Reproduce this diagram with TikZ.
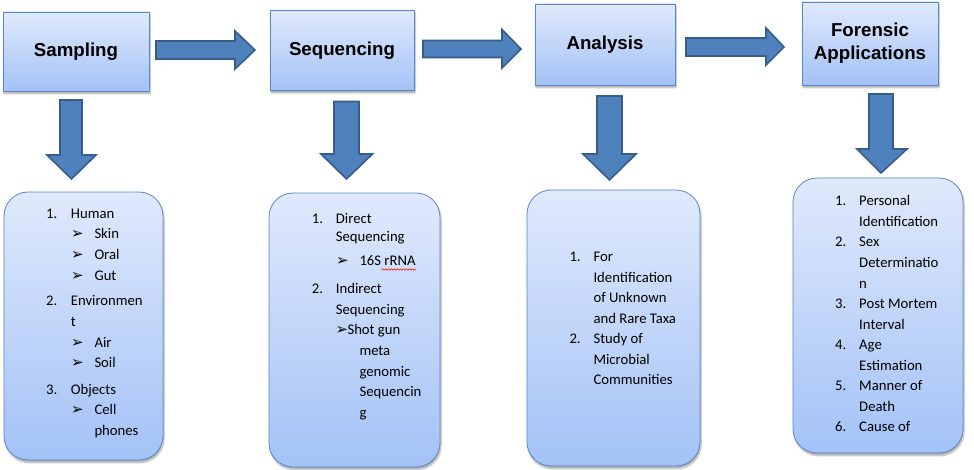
\documentclass[tikz,border=0pt]{standalone}
\usepackage{fontspec}
\usetikzlibrary{shadows,shadows.blur,decorations.pathmorphing}
\newfontfamily\listfont{Carlito}
\newfontfamily\headfont{Liberation Sans}
\newfontfamily\symfont{DejaVu Sans}
\definecolor{boxtop}{RGB}{224,233,251}
\definecolor{boxbot}{RGB}{163,194,247}
\definecolor{boxline}{RGB}{88,136,200}
\definecolor{arrfill}{RGB}{79,129,189}
\definecolor{arrline}{RGB}{56,93,138}
\tikzset{
  headbox/.style={rectangle, draw=boxline, line width=0.8pt, top color=boxtop, bottom color=boxbot,
    blur shadow={shadow xshift=1pt, shadow yshift=-2.5pt, shadow blur steps=6, shadow opacity=35},
    font=\headfont\fontsize{18.7}{23.3}\selectfont\bfseries, align=center, inner sep=0pt},
  listbox/.style={rectangle, rounded corners=24pt, draw=boxline, line width=0.8pt, top color=boxtop, bottom color=boxbot,
    blur shadow={shadow xshift=1pt, shadow yshift=-2.5pt, shadow blur steps=6, shadow opacity=35}, inner sep=0pt},
  blockarrow/.style={fill=arrfill, draw=arrline, line width=1.6pt, line join=miter},
  lt/.style={font=\listfont\fontsize{14.7}{20.5}\selectfont, anchor=base west, inner sep=0pt, text=black},
  bl/.style={font=\symfont\fontsize{15}{16}\selectfont, anchor=base west, inner sep=0pt, text=black},
}
\begin{document}
\begin{tikzpicture}[x=1pt,y=-1pt]
\useasboundingbox (0,0) rectangle (974,470);
% header boxes
\node[headbox, minimum width=146pt, minimum height=79pt] (samp) at (76,51.5) {Sampling};
\node[headbox, minimum width=144pt, minimum height=80pt] (seq) at (342,50.5) {Sequencing};
\node[headbox, minimum width=140pt, minimum height=81pt] (ana) at (605,44.5) {Analysis};
\node[headbox, minimum width=136pt, minimum height=83pt] (for) at (870,43.5) {Forensic\\Applications};
% list boxes
\node[listbox, minimum width=159pt, minimum height=268pt] (l1) at (83.5,326) {};
\node[listbox, minimum width=171pt, minimum height=274pt] (l2) at (354.5,330) {};
\node[listbox, minimum width=173pt, minimum height=276pt] (l3) at (613.5,328) {};
\node[listbox, minimum width=170pt, minimum height=275pt] (l4) at (878,315.5) {};
% right block arrows
\draw[blockarrow] (156,41) -- (235,41) -- (235,31) -- (255,50) -- (235,69) -- (235,59) -- (156,59) -- cycle;
\draw[blockarrow] (423,40.5) -- (502,40.5) -- (502,29.5) -- (521,49) -- (502,68) -- (502,57.5) -- (423,57.5) -- cycle;
\draw[blockarrow] (686,38) -- (766,38) -- (766,28) -- (784,47) -- (766,65) -- (766,56) -- (686,56) -- cycle;
% down block arrows
\draw[blockarrow] (60,100) -- (82,100) -- (82,155) -- (96,155) -- (71.5,179) -- (47,155) -- (60,155) -- cycle;
\draw[blockarrow] (334,101.5) -- (359,101.5) -- (359,154) -- (372.5,154) -- (346.5,179) -- (321,154) -- (334,154) -- cycle;
\draw[blockarrow] (597,96) -- (622,96) -- (622,154) -- (636,154) -- (609.5,180) -- (583,154) -- (597,154) -- cycle;
\draw[blockarrow] (869,94) -- (893,94) -- (893,149) -- (907,149) -- (881,173) -- (857,149) -- (869,149) -- cycle;
% list 1
\node[lt] (a1n) at (46,218.3) {1.};  \node[lt] (a1) at (70.7,218.3) {Human};
\node[bl] (a1b1) at (71,239) {➢}; \node[lt] (a1s1) at (94.3,239) {Skin};
\node[bl] (a1b2) at (71,259.5) {➢}; \node[lt] (a1s2) at (94.3,259.5) {Oral};
\node[bl] (a1b3) at (71,280) {➢}; \node[lt] (a1s3) at (94.3,280) {Gut};
\node[lt] (a2n) at (46,305.7) {2.};  \node[lt] (a2) at (70.7,305.7) {Environmen};
\node[lt] (a2c) at (70.7,326.5) {t};
\node[bl] (a2b1) at (71,347) {➢}; \node[lt] (a2s1) at (94.3,347) {Air};
\node[bl] (a2b2) at (71,367.7) {➢}; \node[lt] (a2s2) at (94.3,367.7) {Soil};
\node[lt] (a3n) at (46,394) {3.};  \node[lt] (a3) at (70.7,394) {Objects};
\node[bl] (a3b1) at (71,414.4) {➢}; \node[lt] (a3s1) at (94.3,414.4) {Cell};
\node[lt] (a3s1c) at (94.3,435) {phones};
% list 2
\node[lt] (b1n) at (311.7,224) {1.}; \node[lt] (b1) at (335.7,224) {Direct};
\node[lt] (b1c) at (335.7,241.7) {Sequencing};
\node[bl] (b1b1) at (336,265.7) {➢}; \node[lt] (b1s1) at (359.3,265.7) {16S rRNA};
\draw[red, line width=0.5pt, decorate, decoration={snake, amplitude=0.8pt, segment length=3pt}] (381.5,269.5) -- (416,269.5);
\node[lt] (b2n) at (311.7,293.3) {2.}; \node[lt] (b2) at (335.7,293.3) {Indirect};
\node[lt] (b2c) at (335.7,314) {Sequencing};
\node[bl] (b2b1) at (335.5,334.5) {➢}; \node[lt] (b2s1) at (347.3,334.5) {Shot gun};
\node[lt] (b2s2) at (359.3,355.7) {meta};
\node[lt] (b2s3) at (359.3,376.2) {genomic};
\node[lt] (b2s4) at (359.3,396.7) {Sequencin};
\node[lt] (b2s5) at (359.3,417) {g};
% list 3
\node[lt] (c1n) at (569.3,261.7) {1.}; \node[lt] (c1) at (593.3,261.7) {For};
\node[lt] (c1b) at (593.3,282.2) {Identification};
\node[lt] (c1c) at (593.3,302.7) {of Unknown};
\node[lt] (c1d) at (593.3,323.2) {and Rare Taxa};
\node[lt] (c2n) at (569.3,343.5) {2.}; \node[lt] (c2) at (593.3,343.5) {Study of};
\node[lt] (c2b) at (593.3,364) {Microbial};
\node[lt] (c2c) at (593.3,384.5) {Communities};
% list 4
\node[lt] (d1n) at (835,206) {1.}; \node[lt] (d1) at (859,206) {Personal};
\node[lt] (d1b) at (859,226.6) {Identification};
\node[lt] (d2n) at (835,247) {2.}; \node[lt] (d2) at (859,247) {Sex};
\node[lt] (d2b) at (859,267.5) {Determinatio};
\node[lt] (d2c) at (859,288) {n};
\node[lt] (d3n) at (835,308.4) {3.}; \node[lt] (d3) at (859,308.4) {Post Mortem};
\node[lt] (d3b) at (859,329) {Interval};
\node[lt] (d4n) at (835,349.4) {4.}; \node[lt] (d4) at (859,349.4) {Age};
\node[lt] (d4b) at (859,370) {Estimation};
\node[lt] (d5n) at (835,390.4) {5.}; \node[lt] (d5) at (859,390.4) {Manner of};
\node[lt] (d5b) at (859,411) {Death};
\node[lt] (d6n) at (835,431.4) {6.}; \node[lt] (d6) at (859,431.4) {Cause of};
\end{tikzpicture}
\end{document}
